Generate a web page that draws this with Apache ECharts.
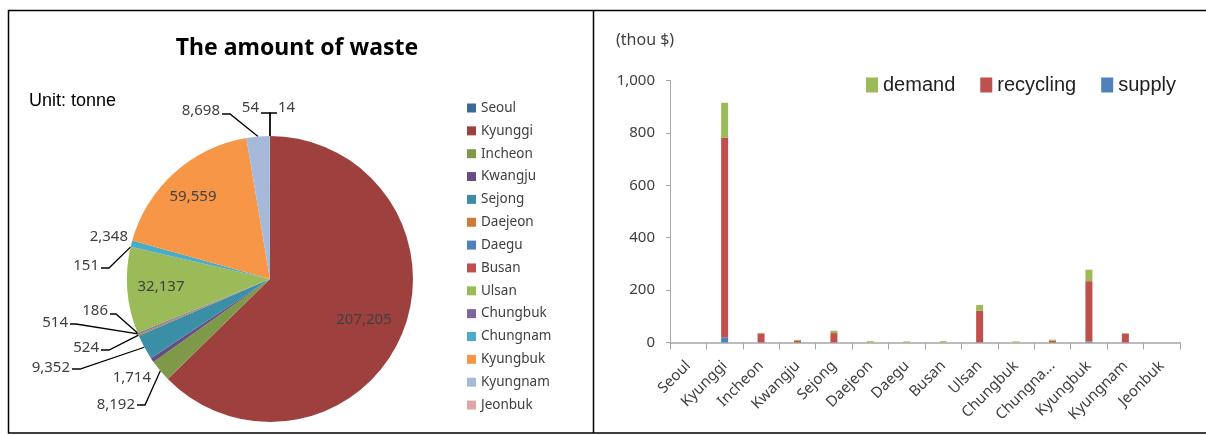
<!DOCTYPE html>
<html>
<head>
<meta charset="utf-8">
<script src="https://cdn.jsdelivr.net/npm/echarts@6/dist/echarts.min.js"></script>
<style>
html,body{margin:0;padding:0;background:#fff;}
#c{width:1206px;height:436px;}
</style>
</head>
<body>
<div id="c"></div>
<script>
// ---------- data ----------
const pieNames = ['Seoul','Kyunggi','Incheon','Kwangju','Sejong','Daejeon','Daegu','Busan','Ulsan','Chungbuk','Chungnam','Kyungbuk','Kyungnam','Jeonbuk'];
const pieValues = [14,207205,8192,1714,9352,524,514,186,32137,151,2348,59559,8698,54];

const categories = ['Seoul','Kyunggi','Incheon','Kwangju','Sejong','Daejeon','Daegu','Busan','Ulsan','Chungbuk','Chungnam','Kyungbuk','Kyungnam','Jeonbuk'];
const barTickLabels = ['Seoul','Kyunggi','Incheon','Kwangju','Sejong','Daejeon','Daegu','Busan','Ulsan','Chungbuk','Chungna...','Kyungbuk','Kyungnam','Jeonbuk'];
const supply    = [0, 20, 0, 0, 0, 0, 0, 0, 0, 0, 0, 4, 0, 0];
const recycling = [0, 762, 34, 6, 36, 0, 0, 0, 121, 0, 7, 230, 33, 0];
const demand    = [0, 133, 3, 4, 9, 5, 4, 5, 22, 4, 4, 44, 3, 0];
const yTicks = [0, 200, 400, 600, 800, 1000];

// ---------- styles ----------
const pieColors = ['#3E679C','#9E413E','#7E9A48','#664E83','#3A8FA6','#D17A35','#4F81BD','#C0504D','#9BBB59','#8064A2','#4BACC6','#F79646','#A7B9DA','#DCA7A6'];
// label placement (text anchor) and leader-line bend/end for each slice label
const pieLabelStyle = {
  'Seoul':    {x:278, y:108, align:'left',  line:[[270,113],[277,113]]},
  'Kyunggi':  {x:364, y:320, align:'center'},
  'Incheon':  {x:135, y:405, align:'right', line:[[145,405],[137,405]]},
  'Kwangju':  {x:151, y:378, align:'right'},
  'Sejong':   {x:70,  y:368, align:'right', line:[[80,369],[72,369]]},
  'Daejeon':  {x:99,  y:348, align:'right', line:[[109,350],[101,350]]},
  'Daegu':    {x:68,  y:323, align:'right', line:[[76,324],[70,324]]},
  'Busan':    {x:108, y:311, align:'right', line:[[116,314],[110,314]]},
  'Ulsan':    {x:161, y:287, align:'center'},
  'Chungbuk': {x:99,  y:266, align:'right', line:[[109,268],[101,268]]},
  'Chungnam': {x:128, y:237, align:'right'},
  'Kyungbuk': {x:193, y:197, align:'center'},
  'Kyungnam': {x:220, y:111, align:'right', line:[[230,114],[222,114]]},
  'Jeonbuk':  {x:259, y:108, align:'right', line:[[270,113],[261,113]]}
};
const noLine = ['Kyunggi','Kwangju','Ulsan','Chungnam','Kyungbuk'];

const chart = echarts.init(document.getElementById('c'), null, {renderer:'canvas'});

const pieData = pieNames.map((n, i) => ({
  name: n,
  value: pieValues[i],
  itemStyle: {color: pieColors[i]},
  labelLine: {show: noLine.indexOf(n) < 0}
}));

const option = {
  animation: false,
  textStyle: {fontFamily: 'Noto Sans'},
  graphic: [
    {type:'rect', shape:{x:8.5, y:10.5, width:1210, height:422.5}, style:{fill:'none', stroke:'#000', lineWidth:1.5}, silent:true},
    {type:'line', shape:{x1:593.5, y1:10, x2:593.5, y2:433}, style:{stroke:'#000', lineWidth:1.5}, silent:true},
    {type:'text', x:297, y:48, style:{text:'The amount of waste', font:'bold 23px "Noto Sans"', fill:'#000', textAlign:'center', textVerticalAlign:'middle'}},
    {type:'text', x:29, y:101, style:{text:'Unit: tonne', font:'18px "Liberation Sans"', fill:'#000', textAlign:'left', textVerticalAlign:'middle'}},
    {type:'text', x:616, y:40, style:{text:'(thou $)', font:'16px "Noto Sans"', fill:'#404040', textAlign:'left', textVerticalAlign:'middle'}}
  ],
  legend: [
    {
      orient:'vertical', left:467, top:101, padding:0,
      itemWidth:9, itemHeight:9, itemGap:8.85, icon:'rect',
      data: pieNames,
      textStyle:{fontFamily:'Noto Sans', fontSize:13.5, color:'#404040', lineHeight:14},
      selectedMode:false
    },
    {
      orient:'horizontal', left:866, top:75, padding:0,
      itemWidth:12, itemHeight:15, itemGap:25, icon:'rect',
      data:['demand','recycling','supply'],
      textStyle:{fontFamily:'Liberation Sans', fontSize:20, color:'#222'},
      selectedMode:false
    }
  ],
  grid: {left:670, right:26, top:80.5, bottom:93.5, containLabel:false},
  xAxis: {
    type:'category', data: categories,
    axisLine:{show:true, lineStyle:{color:'#A6A6A6', width:1.5}},
    axisTick:{show:true, length:7, lineStyle:{color:'#A6A6A6'}},
    axisLabel:{rotate:45, margin:21, fontSize:15, color:'#404040', fontFamily:'Noto Sans', interval:0,
      formatter: function (v, i) { return barTickLabels[i]; }}
  },
  yAxis: {
    type:'value', min:0, max:1000, interval:200,
    axisLine:{show:true, lineStyle:{color:'#A6A6A6'}},
    axisTick:{show:true, length:4, lineStyle:{color:'#A6A6A6'}},
    splitLine:{show:false},
    axisLabel:{fontSize:15, color:'#404040', fontFamily:'Noto Sans', margin:15,
      formatter: function (v) { return yTicks.indexOf(v) >= 0 ? v.toLocaleString('en-US') : ''; }}
  },
  series: [
    {
      type:'pie', name:'waste',
      center:[270, 279], radius:143,
      startAngle:90, clockwise:true,
      avoidLabelOverlap:false,
      data: pieData,
      label:{show:true, position:'outside', fontSize:15, color:'#404040', fontFamily:'Noto Sans', overflow:'none',
        formatter: function (p) { return p.value.toLocaleString('en-US'); }},
      labelLine:{show:true, length:10, length2:8, lineStyle:{color:'#000', width:1.3}},
      itemStyle:{borderWidth:0},
      emphasis:{disabled:true},
      labelLayout: function (p) {
        const s = pieLabelStyle[pieNames[p.dataIndex]];
        const out = {x:s.x, y:s.y, align:s.align, verticalAlign:'middle', hideOverlap:false};
        if (s.line && p.labelLinePoints) {
          out.labelLinePoints = [p.labelLinePoints[0], s.line[0], s.line[1]];
        }
        return out;
      }
    },
    {type:'bar', name:'supply', stack:'t', data:supply, barWidth:7, itemStyle:{color:'#4F81BD'}},
    {type:'bar', name:'recycling', stack:'t', data:recycling, barWidth:7, itemStyle:{color:'#C0504D'}},
    {type:'bar', name:'demand', stack:'t', data:demand, barWidth:7, itemStyle:{color:'#9BBB59'}}
  ]
};
chart.setOption(option);
</script>
</body>
</html>
